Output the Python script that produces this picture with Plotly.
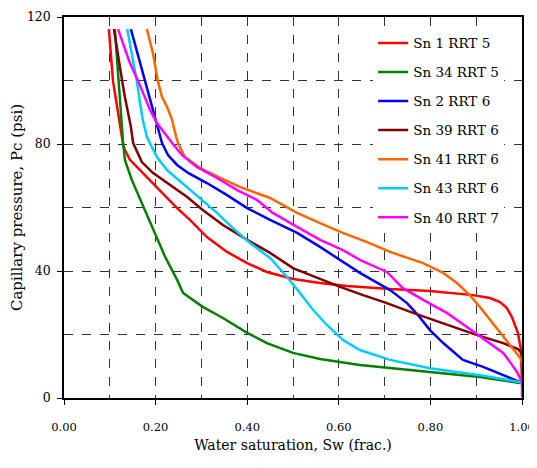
import plotly.graph_objects as go

# Sn 1 RRT 5
sw_sn1 = [0.098, 0.107, 0.129, 0.133, 0.144, 0.172, 0.210, 0.247, 0.275, 0.312, 0.356, 0.400, 0.443, 0.500,
          0.559, 0.618, 0.712, 0.799, 0.893, 0.930, 0.952, 0.967, 0.978, 0.991, 0.998, 1.0, 1.0]
pc_sn1 = [116.2, 99.8, 80.0, 78.1, 75.0, 70.9, 65.5, 59.8, 56.1, 50.7, 46.0, 42.5, 39.7, 37.5,
          36.2, 35.3, 34.3, 33.7, 32.4, 31.5, 30.2, 28.3, 25.5, 20.5, 15.1, 8.8, 4.1]
# Sn 34 RRT 5
sw_sn34 = [0.111, 0.120, 0.127, 0.129, 0.133, 0.148, 0.170, 0.188, 0.205, 0.221, 0.247, 0.260, 0.303, 0.347,
           0.400, 0.443, 0.500, 0.559, 0.646, 0.712, 0.799, 0.908, 0.996]
pc_sn34 = [116.2, 99.8, 84.4, 80.3, 75.0, 68.7, 61.4, 55.1, 49.8, 44.4, 37.2, 33.1, 28.7, 25.2,
           20.5, 17.3, 14.2, 12.3, 10.4, 9.4, 8.2, 6.6, 4.7]
# Sn 2 RRT 6
sw_sn2 = [0.146, 0.166, 0.177, 0.194, 0.205, 0.214, 0.227, 0.247, 0.271, 0.312, 0.356, 0.400, 0.450, 0.509,
          0.559, 0.603, 0.646, 0.712, 0.749, 0.773, 0.799, 0.828, 0.871, 0.915, 0.959, 0.996]
pc_sn2 = [116.2, 105.5, 99.8, 90.7, 84.4, 80.3, 76.5, 73.4, 70.9, 67.7, 63.9, 59.8, 56.1, 52.0,
          47.6, 43.5, 39.4, 34.0, 29.9, 26.1, 21.4, 17.3, 12.0, 9.8, 7.2, 5.0]
# Sn 39 RRT 6
sw_sn39 = [0.109, 0.118, 0.127, 0.133, 0.140, 0.146, 0.151, 0.170, 0.194, 0.231, 0.269, 0.303, 0.347, 0.400,
           0.450, 0.500, 0.552, 0.603, 0.653, 0.705, 0.762, 0.836, 0.902, 0.959, 0.991, 1.004, 1.007, 1.0]
pc_sn39 = [116.2, 108.7, 99.8, 94.8, 89.8, 85.4, 80.3, 74.3, 70.9, 67.1, 63.3, 59.2, 54.5, 49.8,
           45.7, 40.9, 37.8, 35.0, 32.4, 29.9, 26.8, 23.0, 19.8, 17.3, 15.4, 13.5, 10.4, 5.0]
# Sn 41 RRT 6
sw_sn41 = [0.181, 0.194, 0.205, 0.214, 0.225, 0.236, 0.245, 0.249, 0.264, 0.297, 0.341, 0.384, 0.450, 0.509,
           0.559, 0.609, 0.662, 0.712, 0.784, 0.828, 0.858, 0.886, 0.908, 0.930, 0.952, 0.974, 0.996, 1.007,
           1.002, 1.0]
pc_sn41 = [116.2, 108.7, 99.8, 94.8, 91.7, 87.6, 82.2, 80.3, 75.9, 72.4, 69.3, 66.5, 63.0, 58.3,
           55.1, 52.0, 49.1, 46.0, 42.5, 39.4, 36.2, 32.4, 28.7, 24.6, 20.5, 16.4, 12.6, 9.4,
           6.3, 4.1]
# Sn 43 RRT 6
sw_sn43 = [0.138, 0.148, 0.159, 0.166, 0.172, 0.181, 0.188, 0.203, 0.225, 0.258, 0.297, 0.334, 0.369, 0.406,
           0.450, 0.487, 0.515, 0.544, 0.574, 0.609, 0.646, 0.712, 0.799, 0.908, 0.996, 1.007, 1.002]
pc_sn43 = [116.2, 108.7, 99.8, 92.9, 87.6, 82.2, 80.3, 75.9, 71.8, 67.7, 63.0, 58.3, 53.5, 48.8,
           44.1, 38.1, 33.1, 27.7, 23.0, 18.3, 15.1, 12.0, 9.4, 7.2, 5.0, 3.8, 0.9]
# Sn 40 RRT 7
sw_sn40 = [0.118, 0.129, 0.144, 0.162, 0.172, 0.188, 0.203, 0.225, 0.236, 0.258, 0.290, 0.334, 0.378, 0.421,
           0.456, 0.509, 0.559, 0.609, 0.646, 0.705, 0.740, 0.793, 0.836, 0.886, 0.930, 0.959, 0.974, 0.989,
           1.0, 1.0]
pc_sn40 = [116.2, 111.8, 105.5, 99.8, 96.1, 90.7, 86.6, 82.2, 80.3, 76.5, 72.8, 69.3, 65.5, 62.4,
           58.3, 53.9, 49.8, 46.6, 43.5, 39.7, 34.6, 30.2, 26.8, 21.7, 17.3, 14.2, 11.3, 8.2,
           5.0, 0.3]

series_names = ["Sn 1 RRT 5", "Sn 34 RRT 5", "Sn 2 RRT 6", "Sn 39 RRT 6",
                "Sn 41 RRT 6", "Sn 43 RRT 6", "Sn 40 RRT 7"]
series_sw = [sw_sn1, sw_sn34, sw_sn2, sw_sn39, sw_sn41, sw_sn43, sw_sn40]
series_pc = [pc_sn1, pc_sn34, pc_sn2, pc_sn39, pc_sn41, pc_sn43, pc_sn40]
colors = ["#ff0000", "#008000", "#0000ff", "#800000", "#ff6600", "#00ccff", "#ff00ff"]

x_ticks = [0.0, 0.2, 0.4, 0.6, 0.8, 1.0]
x_tick_labels = ["0.00", "0.20", "0.40", "0.60", "0.80", "1.00"]
y_ticks = [0, 40, 80, 120]

fig = go.Figure()
for i, (name, sw, pc, c) in enumerate(zip(series_names, series_sw, series_pc, colors)):
    fig.add_trace(go.Scatter(x=sw, y=pc, mode="lines", name=name, legendgroup=str(i),
                             line=dict(color=c, width=2.5)))

ff = "DejaVu Serif"
fig.update_layout(
    width=529, height=460,
    margin=dict(l=56, r=15, t=9, b=70, autoexpand=False),
    paper_bgcolor="white", plot_bgcolor="white",
    font=dict(family=ff, size=13, color="black"),
    showlegend=True,
    legend=dict(x=0.675, y=0.972, xanchor="left", yanchor="top",
                bgcolor="white", borderwidth=0, font=dict(size=13.5, family=ff),
                traceorder="grouped", tracegroupgap=8.5),
)
fig.update_xaxes(
    range=[0, 1], tickvals=x_ticks, ticktext=x_tick_labels, automargin=False,
    showline=True, linecolor="black", linewidth=1.5, mirror=True,
    ticks="outside", ticklen=5, tickcolor="black", ticklabelstandoff=12,
    tickfont=dict(family=ff, size=11.5),
    showgrid=True, gridcolor="#333333", griddash="dash", gridwidth=1,
    minor=dict(dtick=0.1, showgrid=True, gridcolor="#333333", griddash="dash", gridwidth=1),
    zeroline=False,
    title=dict(text="Water saturation, Sw (frac.)", standoff=8, font=dict(family=ff, size=14)),
)
fig.update_yaxes(
    range=[0, 120], tickvals=y_ticks, automargin=False,
    showline=True, linecolor="black", linewidth=1.5, mirror=True,
    ticks="outside", ticklen=5, tickcolor="black", ticklabelstandoff=4,
    tickfont=dict(family=ff, size=12.5),
    showgrid=True, gridcolor="#333333", griddash="dash", gridwidth=1,
    minor=dict(dtick=20, showgrid=True, gridcolor="#333333", griddash="dash", gridwidth=1),
    zeroline=False,
    title=dict(text="Capillary pressure, Pc (psi)", standoff=4, font=dict(family=ff, size=15)),
)

fig.write_html("out.html")
